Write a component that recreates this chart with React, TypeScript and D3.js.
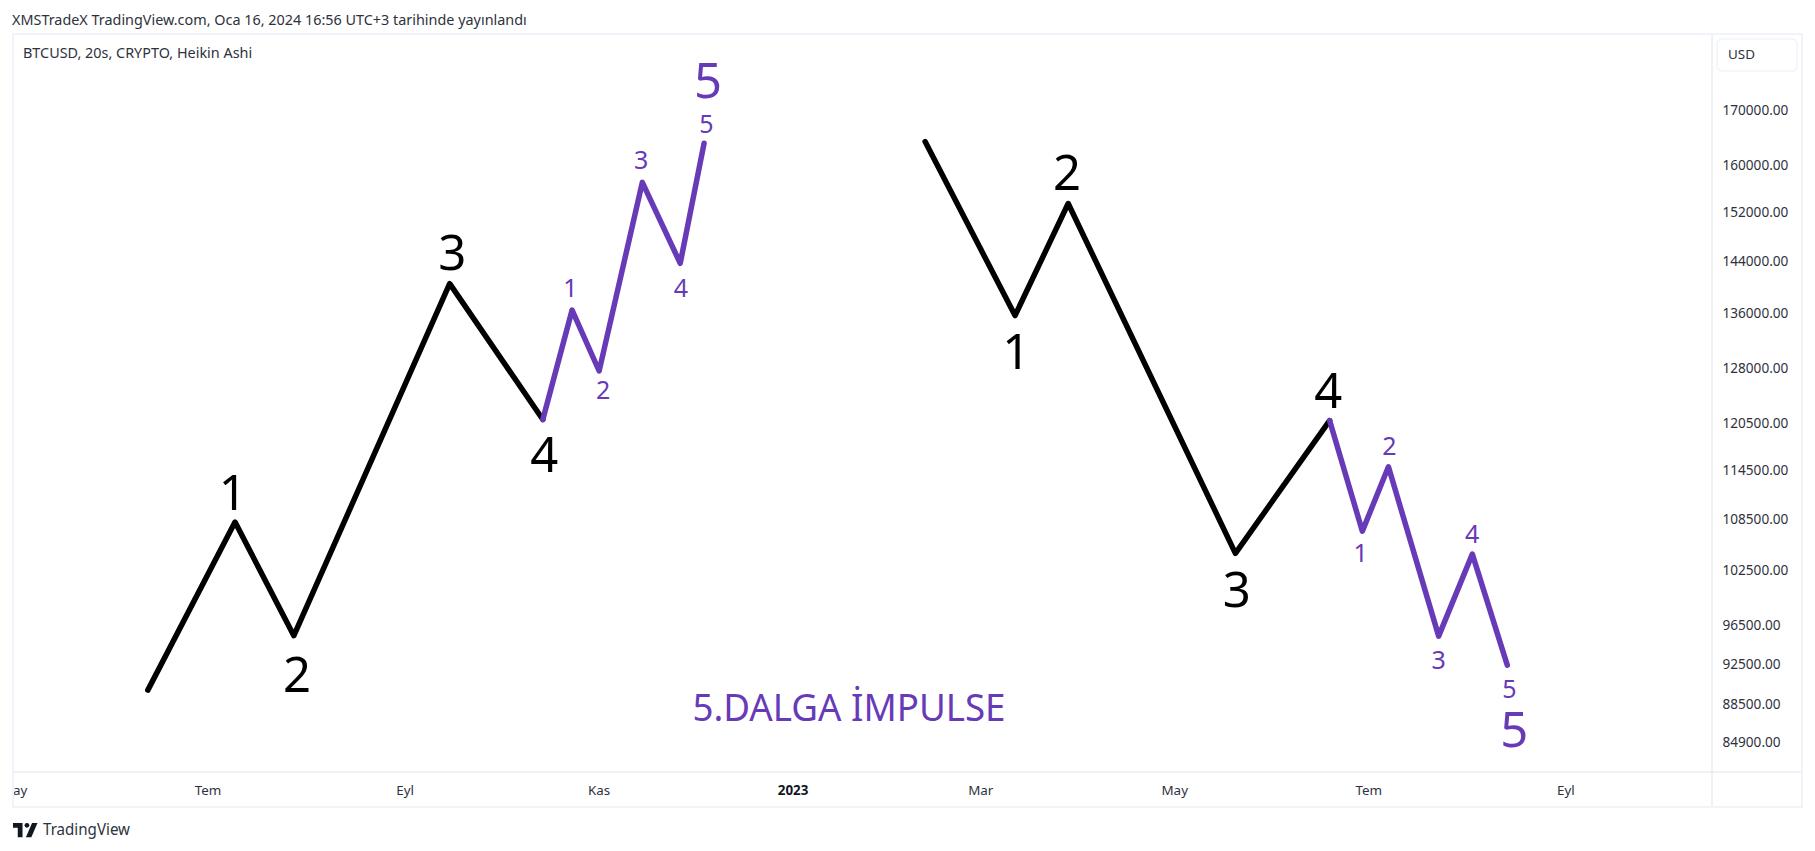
import React from "react";
import * as d3 from "d3";

// ---------- data ----------
const titleText = "XMSTradeX TradingView.com, Oca 16, 2024 16:56 UTC+3 tarihinde yayınlandı";
const symbolText = "BTCUSD, 20s, CRYPTO, Heikin Ashi";
const noteText = "5.DALGA İMPULSE";
const priceTicks = [170000, 160000, 152000, 144000, 136000, 128000, 120500, 114500, 108500, 102500, 96500, 92500, 88500, 84900];
const timeTicks: [string, string, boolean][] = [
  ["2022-05-01T00:00", "May", false],
  ["2022-07-01T00:00", "Tem", false],
  ["2022-09-01T00:00", "Eyl", false],
  ["2022-11-01T00:00", "Kas", false],
  ["2023-01-01T00:00", "2023", true],
  ["2023-03-01T00:00", "Mar", false],
  ["2023-05-01T00:00", "May", false],
  ["2023-07-01T00:00", "Tem", false],
  ["2023-09-01T00:00", "Eyl", false],
];
type Pt = [string, number];
const upMain: Pt[] = [
  ["2022-06-12T02:00", 89880], ["2022-07-09T12:00", 108100], ["2022-07-28T00:00", 95420],
  ["2022-09-15T00:00", 140470], ["2022-10-14T07:00", 121000],
];
const upFifth: Pt[] = [
  ["2022-10-14T07:00", 121000], ["2022-10-23T12:00", 136460], ["2022-11-01T00:00", 127620],
  ["2022-11-14T14:00", 157010], ["2022-11-26T12:00", 143650], ["2022-12-04T00:00", 163900],
];
const downMain: Pt[] = [
  ["2023-02-11T12:00", 164200], ["2023-03-11T19:00", 135640], ["2023-03-28T12:00", 153400],
  ["2023-05-20T02:00", 104450], ["2023-06-18T17:00", 120860],
];
const downFifth: Pt[] = [
  ["2023-06-18T17:00", 120860], ["2023-06-29T00:00", 107030], ["2023-07-07T05:00", 114870],
  ["2023-07-23T00:00", 95370], ["2023-08-02T14:00", 104360], ["2023-08-13T14:00", 92380],
];
// wave labels: text, date, price (of the text baseline), big?, colour group
type Lab = [string, string, number, "big" | "small", "black" | "purple"];
const waveLabels: Lab[] = [
  ["1", "2022-07-08T18:00", 109600, "big", "black"],
  ["2", "2022-07-29T00:00", 89670, "big", "black"],
  ["3", "2022-09-15T20:00", 142630, "big", "black"],
  ["4", "2022-10-14T18:00", 114240, "big", "black"],
  ["1", "2022-10-23T00:00", 138470, "small", "purple"],
  ["2", "2022-11-02T06:00", 123710, "small", "purple"],
  ["3", "2022-11-14T06:00", 159330, "small", "purple"],
  ["4", "2022-11-26T18:00", 138470, "small", "purple"],
  ["5", "2022-12-04T18:00", 165750, "small", "purple"],
  ["5", "2022-12-05T06:00", 172200, "big", "purple"],
  ["1", "2023-03-12T04:00", 127890, "big", "black"],
  ["2", "2023-03-28T04:00", 155680, "big", "black"],
  ["3", "2023-05-20T12:00", 98460, "big", "black"],
  ["4", "2023-06-18T06:00", 122600, "big", "black"],
  ["1", "2023-06-28T12:00", 103410, "small", "purple"],
  ["2", "2023-07-07T12:00", 116360, "small", "purple"],
  ["3", "2023-07-23T00:00", 91970, "small", "purple"],
  ["4", "2023-08-02T12:00", 105620, "small", "purple"],
  ["5", "2023-08-14T06:00", 89080, "small", "purple"],
  ["5", "2023-08-15T18:00", 84420, "big", "purple"],
];

// ---------- layout ----------
const W = 1815, H = 851;
const paneL = 14, paneR = 1712, timeT = 772, frameR = 1802, frameB = 807;
const FONT = "'Noto Sans', 'Open Sans', sans-serif";
const PURPLE = "#673ab7";
const TEXT = "#2e323d";

const x = d3.scaleTime()
  .domain([new Date("2022-07-01T00:00"), new Date("2023-07-01T00:00")])
  .range([208, 208 + 3.18 * 365]);
const y = d3.scaleLog().domain([170000, 84900]).range([110, 742]);
const line = d3.line<Pt>().x(d => x(new Date(d[0]))).y(d => y(d[1]));

export default function App() {
  return (
    <svg width={W} height={H} viewBox={`0 0 ${W} ${H}`}
      style={{ position: "fixed", left: 0, top: 0, background: "#fff", fontFamily: FONT }}>
      <defs>
        <clipPath id="axisClip"><rect x={paneL} y={timeT} width={paneR - paneL} height={frameB - timeT} /></clipPath>
      </defs>
      <text x={12} y={25} fontSize={14.4} fill={TEXT}>{titleText}</text>

      {/* frame */}
      <rect x={13} y={34} width={frameR - 13} height={frameB - 34} fill="none" stroke="#f0f3fa" strokeWidth={2} />
      <line x1={paneR} x2={paneR} y1={35} y2={frameB - 1} stroke="#e0e3eb" />
      <line x1={14} x2={frameR - 1} y1={timeT} y2={timeT} stroke="#e0e3eb" />

      <text x={23} y={58} fontSize={14.4} fill={TEXT}>{symbolText}</text>

      {/* currency */}
      <rect x={1717} y={39} width={80} height={32} rx={5} fill="#fff" stroke="#f0f3fa" strokeWidth={1.5} />
      <text x={1728} y={59} fontSize={13.4} fill={TEXT}>USD</text>

      {/* price axis */}
      {priceTicks.map(t => (
        <text key={t} x={1722.5} y={y(t)} dy="0.35em" fontSize={13.6} fill={TEXT}>{d3.format(".2f")(t)}</text>
      ))}

      {/* time axis */}
      <g clipPath="url(#axisClip)">
        {timeTicks.map(([d, label, bold]) => (
          <text key={d} x={x(new Date(d))} y={795} textAnchor="middle" fontSize={13.4}
            fontWeight={bold ? 700 : 400} fill={bold ? "#131722" : TEXT}>{label}</text>
        ))}
      </g>

      {/* waves */}
      {[upMain, downMain].map((s, i) => (
        <path key={i} d={line(s) ?? ""} fill="none" stroke="#000" strokeWidth={5.5} strokeLinecap="round" strokeLinejoin="round" />
      ))}
      {[upFifth, downFifth].map((s, i) => (
        <path key={i} d={line(s) ?? ""} fill="none" stroke={PURPLE} strokeWidth={5.5} strokeLinecap="round" strokeLinejoin="round" />
      ))}

      {/* labels */}
      {waveLabels.map(([t, d, p, size, c], i) => (
        <text key={i} x={x(new Date(d))} y={y(p)} textAnchor="middle"
          fontSize={size === "big" ? 49 : 25} fill={c === "black" ? "#000" : PURPLE}>{t}</text>
      ))}
      <text x={849} y={721} textAnchor="middle" fontSize={38} textLength={313} lengthAdjust="spacingAndGlyphs" fill={PURPLE}>{noteText}</text>

      {/* logo */}
      <g transform="translate(13,819.5) scale(0.68)" fill="#131722">
        <path d="M0 5h14v21H7V12H0z" />
        <circle cx={20.5} cy={8.5} r={3.5} />
        <path d="M28 5h8l-9 21h-8z" />
      </g>
      <text x={43} y={835} fontSize={15.6} textLength={87} lengthAdjust="spacingAndGlyphs" fill={TEXT}>TradingView</text>
    </svg>
  );
}
